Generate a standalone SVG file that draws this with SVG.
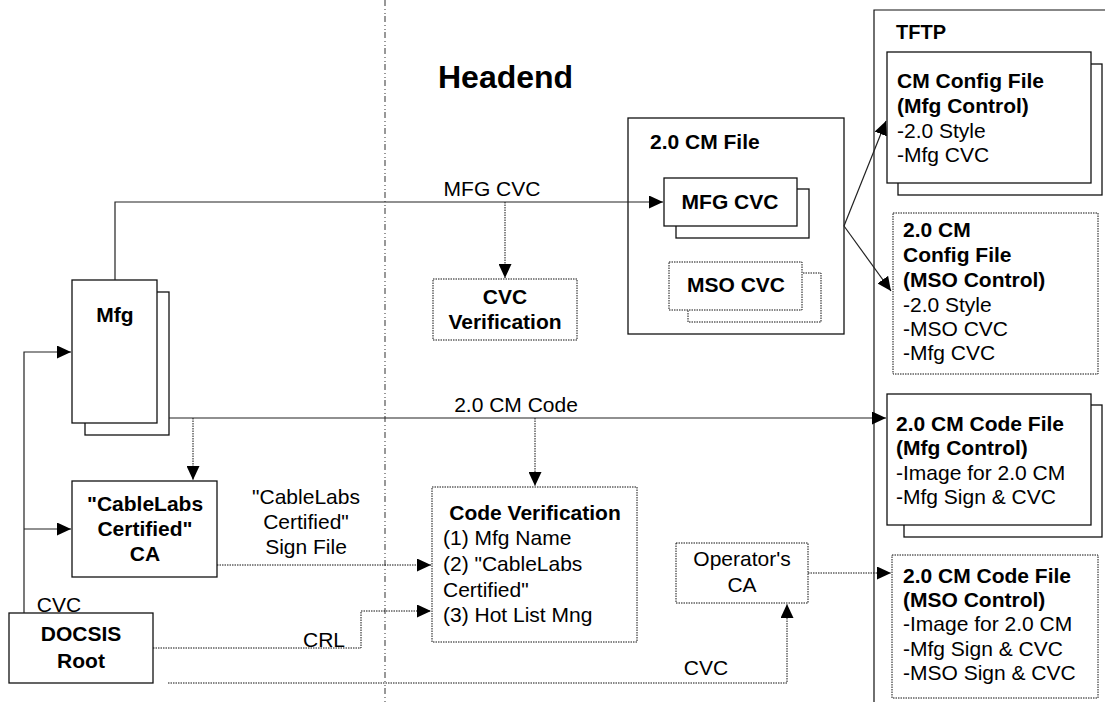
<svg xmlns="http://www.w3.org/2000/svg" width="1105" height="702" viewBox="0 0 1105 702">
<style>
text{font-family:"Liberation Sans",Arial,sans-serif;font-size:21px;fill:#000}
.b{font-weight:bold}
.m{text-anchor:middle}
.box{fill:#fff;stroke:#111;stroke-width:1.3}
.dbox{fill:#fff;stroke:#111;stroke-width:1;stroke-dasharray:1.5 1}
.ln{fill:none;stroke:#222;stroke-width:1.2}
.dl{fill:none;stroke:#111;stroke-width:1;stroke-dasharray:1.5 1}
.dd{fill:none;stroke:#777;stroke-width:1.5;stroke-dasharray:6 3 1 3 1 2}
</style>
<defs>
<marker id="ah" viewBox="0 0 14 13" refX="14" refY="6.5" markerWidth="14" markerHeight="13" markerUnits="userSpaceOnUse" orient="auto">
<path d="M0,0 L14,6.5 L0,13 z" fill="#000"/>
</marker>
</defs>
<rect width="1105" height="702" fill="#fff"/>
<path class="dd" d="M385,0 V702"/>
<text class="b" x="438" y="88" style="font-size:32px">Headend</text>

<g id="tftp">
<path class="ln" d="M874,710 V10 H1110" style="stroke:#111"/>
<text class="b" x="896" y="39" style="font-size:20px">TFTP</text>
</g>

<g id="mfg">
<rect class="box" x="85" y="292" width="84" height="143"/>
<rect class="box" x="72" y="280" width="85" height="143"/>
<text class="b m" x="115" y="322">Mfg</text>
</g>

<g id="cablelabs-ca">
<rect class="box" x="72" y="481" width="145" height="96"/>
<text class="b m" x="145" y="511">"CableLabs</text>
<text class="b m" x="145" y="536">Certified"</text>
<text class="b m" x="145" y="561">CA</text>
</g>

<g id="docsis-root">
<rect class="box" x="9" y="613" width="144" height="70"/>
<text class="b m" x="81" y="641">DOCSIS</text>
<text class="b m" x="81" y="668">Root</text>
</g>

<g id="cvc-verification">
<rect class="dbox" x="433" y="279" width="144" height="61"/>
<text class="b m" x="505" y="304">CVC</text>
<text class="b m" x="505" y="329">Verification</text>
</g>

<g id="cm-file">
<rect class="box" x="628" y="118" width="216" height="216"/>
<text class="b" x="650" y="149">2.0 CM File</text>
</g>

<g id="mfg-cvc">
<rect class="box" x="676" y="189" width="133" height="49"/>
<rect class="box" x="664" y="178" width="133" height="48"/>
<text class="b m" x="730" y="209">MFG CVC</text>
</g>

<g id="mso-cvc">
<rect class="dbox" x="688" y="273" width="133" height="49"/>
<rect class="dbox" x="669" y="262" width="133" height="48"/>
<text class="b m" x="736" y="292">MSO CVC</text>
</g>

<g id="cm-config-mfg">
<rect class="box" x="898" y="64" width="204" height="131"/>
<rect class="box" x="887" y="52" width="204" height="131"/>
<text class="b" x="897" y="88">CM Config File</text>
<text class="b" x="897" y="113">(Mfg Control)</text>
<text x="897" y="138">-2.0 Style</text>
<text x="897" y="162">-Mfg CVC</text>
</g>

<g id="cm-config-mso">
<rect class="dbox" x="893" y="213" width="205" height="161"/>
<text class="b" x="903" y="237">2.0 CM</text>
<text class="b" x="903" y="262">Config File</text>
<text class="b" x="903" y="287">(MSO Control)</text>
<text x="903" y="312">-2.0 Style</text>
<text x="903" y="336">-MSO CVC</text>
<text x="903" y="360">-Mfg CVC</text>
</g>

<g id="code-file-mfg">
<rect class="box" x="904" y="405" width="198" height="132"/>
<rect class="box" x="887" y="394" width="204" height="131"/>
<text class="b" x="896" y="431">2.0 CM Code File</text>
<text class="b" x="896" y="455">(Mfg Control)</text>
<text x="896" y="480">-Image for 2.0 CM</text>
<text x="896" y="504">-Mfg Sign &amp; CVC</text>
</g>

<g id="code-file-mso">
<rect class="dbox" x="892" y="555" width="206" height="143"/>
<text class="b" x="903" y="583">2.0 CM Code File</text>
<text class="b" x="903" y="607">(MSO Control)</text>
<text x="903" y="631">-Image for 2.0 CM</text>
<text x="903" y="656">-Mfg Sign &amp; CVC</text>
<text x="903" y="680">-MSO Sign &amp; CVC</text>
</g>

<g id="code-verification">
<rect class="dbox" x="432" y="487" width="205" height="155"/>
<text class="b m" x="535" y="520">Code Verification</text>
<text x="443" y="545">(1) Mfg Name</text>
<text x="443" y="571">(2) "CableLabs</text>
<text x="443" y="597">Certified"</text>
<text x="443" y="622">(3) Hot List Mng</text>
</g>

<g id="operators-ca">
<rect class="dbox" x="676" y="543" width="132" height="60"/>
<text class="m" x="742" y="566">Operator's</text>
<text class="m" x="742" y="592">CA</text>
</g>

<g id="connectors">
<path class="ln" d="M115,280 V202 H663" marker-end="url(#ah)"/>
<text class="m" x="492" y="196">MFG CVC</text>
<path class="dl" d="M505,202 V278" marker-end="url(#ah)"/>
<path class="ln" d="M844,226 L886,121" marker-end="url(#ah)"/>
<path class="ln" d="M844,226 L891,291" marker-end="url(#ah)"/>
<path class="ln" d="M169,418 H886" marker-end="url(#ah)"/>
<text class="m" x="516" y="412">2.0 CM Code</text>
<path class="dl" d="M535,418 V486" marker-end="url(#ah)"/>
<path class="dl" d="M193,418 V480" marker-end="url(#ah)"/>
<path class="ln" d="M24,613 V352 H71" marker-end="url(#ah)"/>
<path class="ln" d="M24,529 H71" marker-end="url(#ah)"/>
<path class="dl" d="M217,565 H431" marker-end="url(#ah)"/>
<text class="m" x="306" y="504">"CableLabs</text>
<text class="m" x="306" y="529">Certified"</text>
<text class="m" x="306" y="554">Sign File</text>
<path class="dl" d="M153,648 H361 V611 H431" marker-end="url(#ah)"/>
<text class="m" x="324" y="647">CRL</text>
<text class="m" x="59" y="612">CVC</text>
<path class="dl" d="M168,683 H787 V604" marker-end="url(#ah)"/>
<text class="m" x="706" y="675">CVC</text>
<path class="dl" d="M808,573 H891" marker-end="url(#ah)"/>
</g>
</svg>
